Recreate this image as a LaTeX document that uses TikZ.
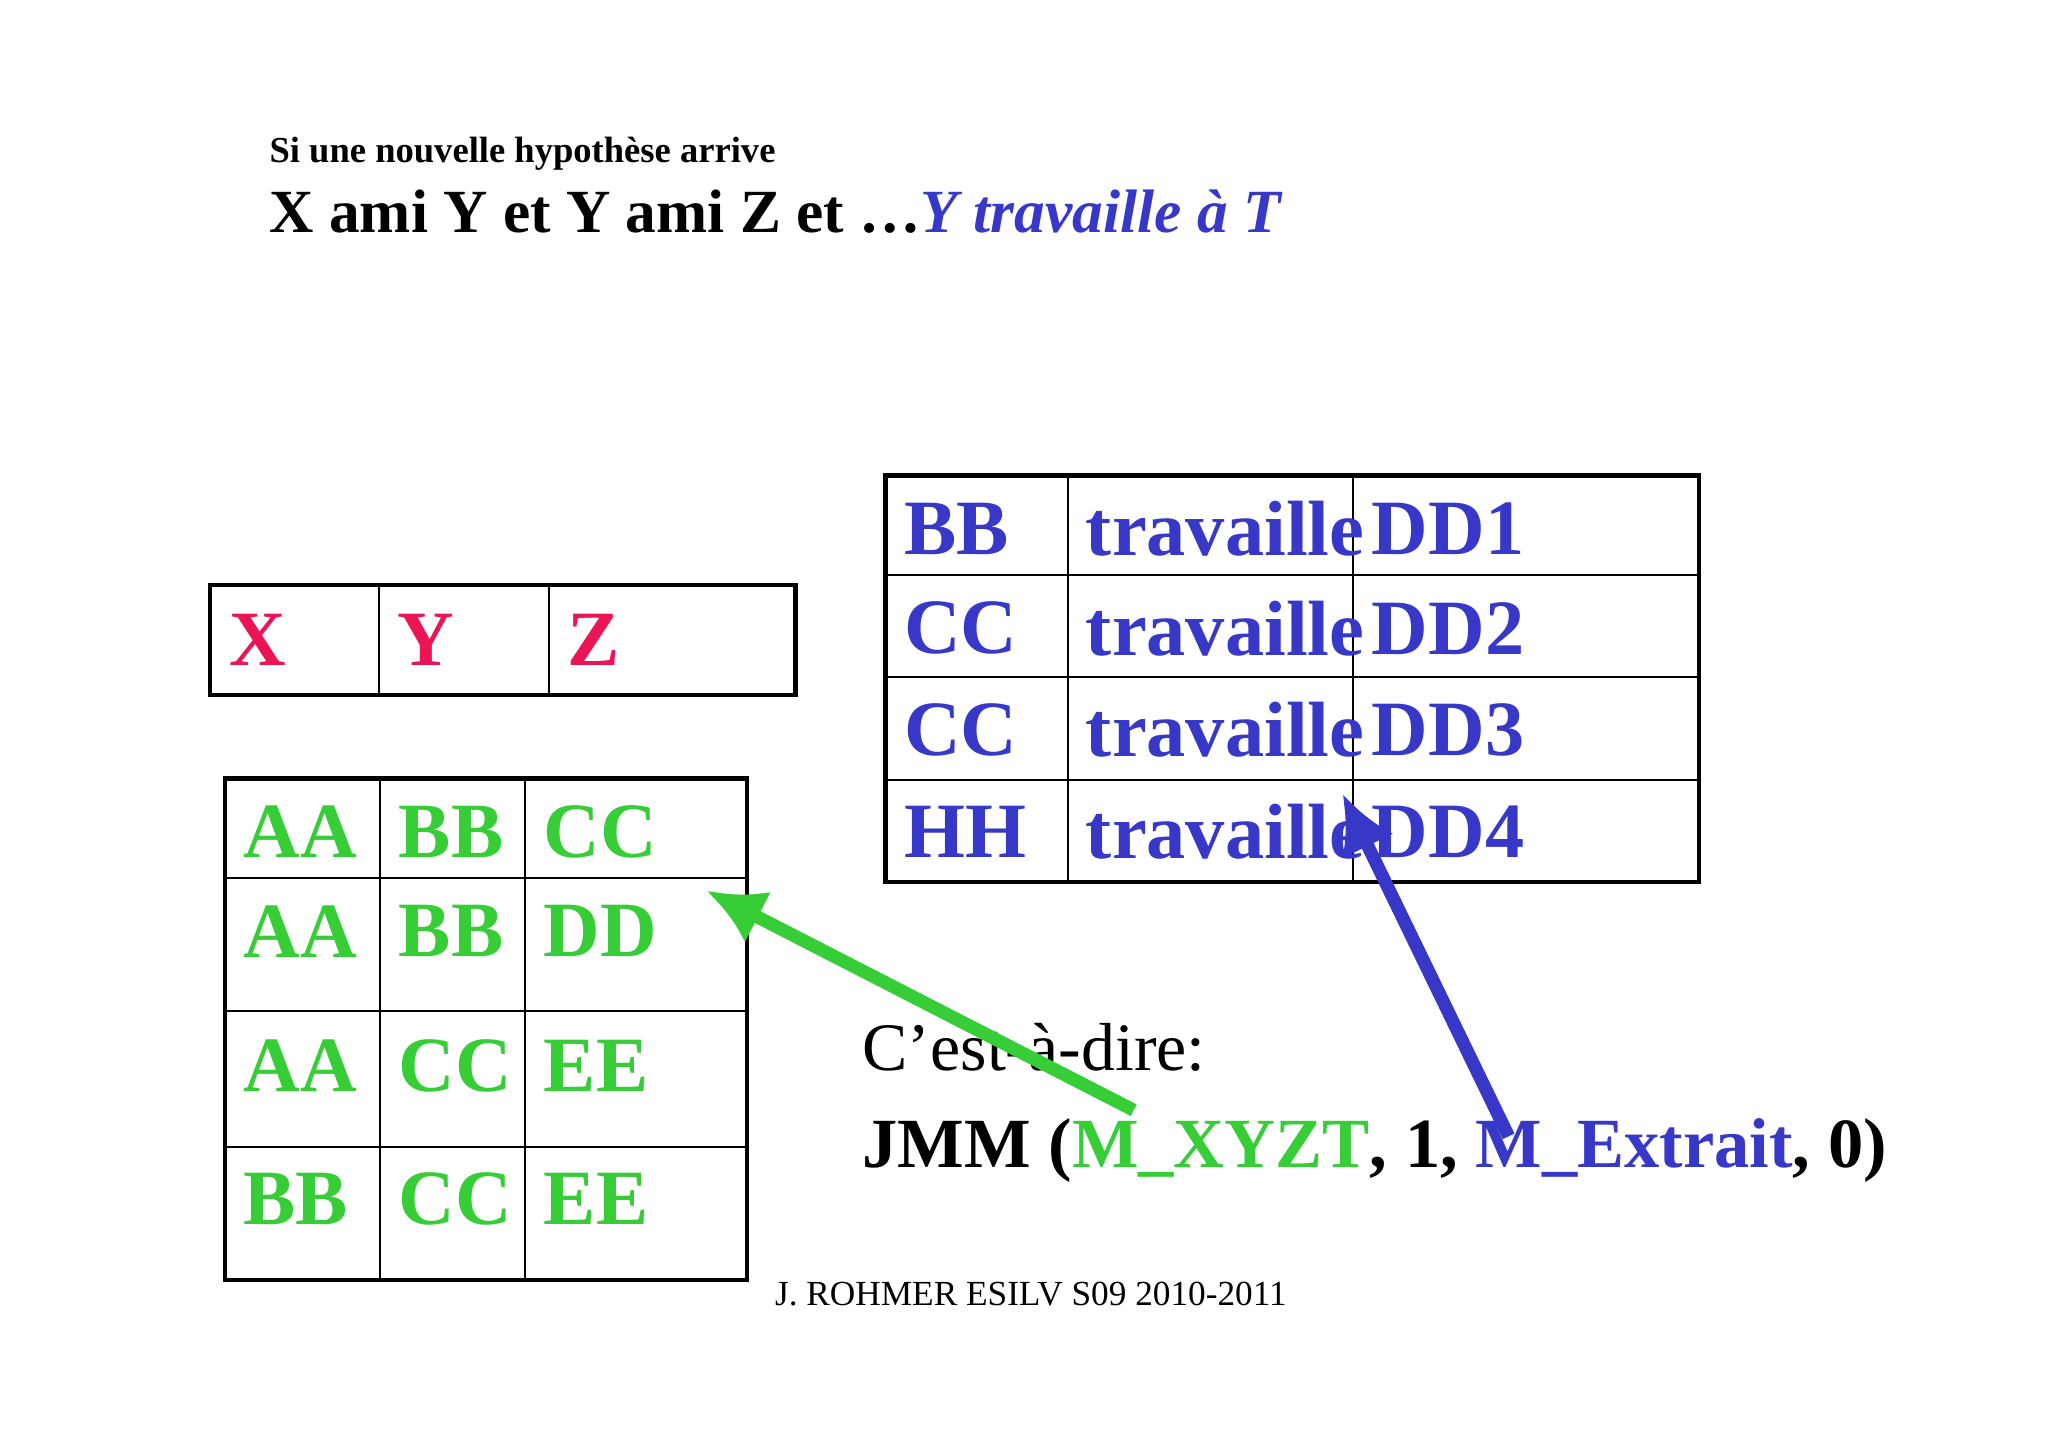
\documentclass[tikz,border=0pt]{standalone}
\usepackage{fontspec}
\setmainfont{Liberation Serif}
\usetikzlibrary{arrows.meta}
\begin{document}
\begin{tikzpicture}[x=0.5pt,y=-0.5pt,
  cell/.style={anchor=west,inner sep=0pt,font=\fontsize{30}{30}\selectfont\bfseries},
  tb/.style={line width=1.6pt},
  tl/.style={line width=0.8pt}]
\definecolor{rd}{RGB}{235,20,85}
\definecolor{gr}{RGB}{55,205,55}
\definecolor{bl}{RGB}{55,55,200}
\useasboundingbox (0,0) rectangle (1568,1108);
\node[anchor=west,inner sep=0pt,font=\fontsize{14}{14}\selectfont\bfseries] (t1) at (206,118) {Si une nouvelle hypothèse arrive};
\node[anchor=west,inner sep=0pt,font=\fontsize{23.5}{24}\selectfont\bfseries] (t2) at (206,162) {X ami Y et Y ami Z et \ldots\textcolor{bl}{\itshape Y travaille à T}};
% XYZ table
\draw[tb] (161,448) rectangle (609,532);
\draw[tl] (290,448) -- (290,532) (420,448) -- (420,532);
\foreach \t/\x/\n in {X/175/x, Y/304/y, Z/434/z}
  \node[cell,text=rd] (\n) at (\x,490) {\t};
% green table
\draw[tb] (172,596) rectangle (572,980);
\draw[tl] (291,596) -- (291,980) (402,596) -- (402,980);
\draw[tl] (172,672) -- (572,672) (172,774) -- (572,774) (172,878) -- (572,878);
\foreach \a/\b/\c/\y/\i in {AA/BB/CC/637/1, AA/BB/DD/713/2, AA/CC/EE/816/3, BB/CC/EE/918/4}{
  \node[cell,text=gr] (ga\i) at (186,\y) {\a};
  \node[cell,text=gr] (gb\i) at (305,\y) {\b};
  \node[cell,text=gr] (gc\i) at (416,\y) {\c};}
% right table
\draw[tb] (678,364) rectangle (1301,675);
\draw[tl] (818,364) -- (818,675) (1036,364) -- (1036,675);
\draw[tl] (678,440) -- (1301,440) (678,518) -- (1301,518) (678,597) -- (1301,597);
\foreach \a/\c/\y/\i in {BB/DD1/405/1, CC/DD2/481/2, CC/DD3/559/3, HH/DD4/637/4}{
  \node[cell,text=bl] (ba\i) at (692,\y) {\a};
  \node[cell,text=bl] (bb\i) at (831,\y) {travaille};
  \node[cell,text=bl] (bc\i) at (1050,\y) {\c};}
\node[anchor=west,inner sep=0pt,font=\fontsize{26}{26}\selectfont] (ced) at (660,802) {C’est-à-dire:};
\node[anchor=west,inner sep=0pt,font=\fontsize{27}{27}\selectfont\bfseries] (jmm) at (660,881) {JMM (\textcolor{gr}{M\_XYZT}, 1, \textcolor{bl}{M\_Extrait}, 0)};
\node[anchor=west,inner sep=0pt,font=\fontsize{13.5}{14}\selectfont] (ft) at (593,991) {J. ROHMER ESILV S09 2010-2011};
\coordinate (gs) at (868,850); \coordinate (ge) at (541,682);
\coordinate (bs) at (1155,870); \coordinate (be) at (1028,608);
\draw[gr,line width=5pt,-{Latex[length=22pt,width=22pt]}] (gs) -- (ge);
\draw[bl,line width=5pt,-{Latex[length=22pt,width=22pt]}] (bs) -- (be);
\end{tikzpicture}
\end{document}
